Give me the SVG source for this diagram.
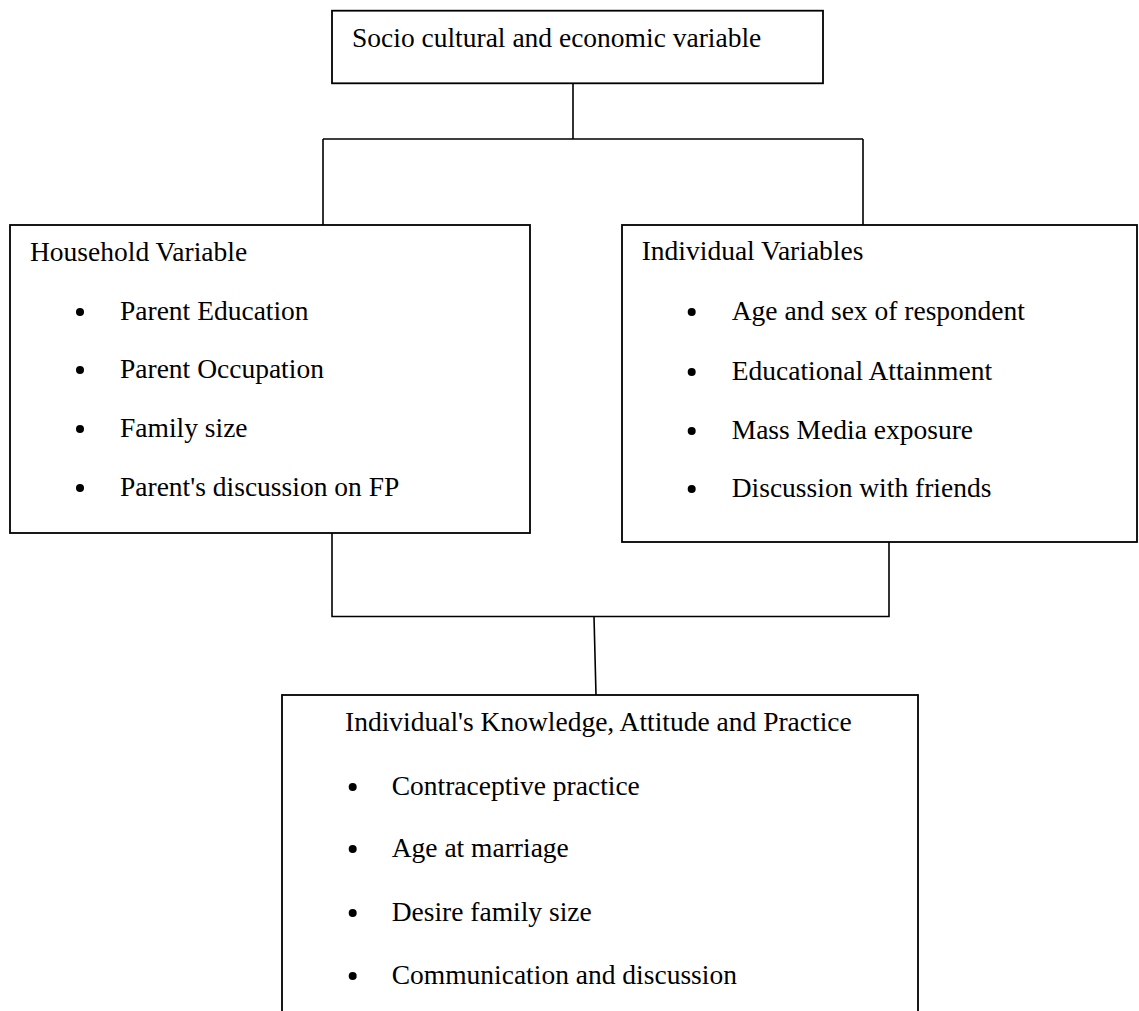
<svg xmlns="http://www.w3.org/2000/svg" width="1139" height="1011" viewBox="0 0 1139 1011">
<style>
.box{fill:#fff;stroke:#000;stroke-width:1.8}
.conn{fill:none;stroke:#000;stroke-width:1.6}
text{font-family:"Liberation Serif","Times New Roman",serif;font-size:27.5px;fill:#000}
.dot{fill:#000}
</style>
<rect width="1139" height="1011" fill="#fff"/>
<g id="connectors">
<path class="conn" d="M573,83 V139 M323,139 H863 M323,139 V225 M863,139 V225"/>
<path class="conn" d="M332,533 V616.5 H889 V542 M594,616.5 L596,695"/>
</g>
<g id="node-socio">
<rect class="box" x="332" y="10.7" width="491" height="72.6"/>
<text x="352" y="47">Socio cultural and economic variable</text>
</g>
<g id="node-household">
<rect class="box" x="10" y="225" width="520" height="308"/>
<text x="30" y="261">Household Variable</text>
<circle class="dot" cx="80" cy="312" r="4"/><text x="120" y="320">Parent Education</text>
<circle class="dot" cx="80" cy="370" r="4"/><text x="120" y="378">Parent Occupation</text>
<circle class="dot" cx="80" cy="429" r="4"/><text x="120" y="437">Family size</text>
<circle class="dot" cx="80" cy="488" r="4"/><text x="120" y="496">Parent's discussion on FP</text>
</g>
<g id="node-individual">
<rect class="box" x="622" y="225" width="515" height="317"/>
<text x="641.7" y="260">Individual Variables</text>
<circle class="dot" cx="691.7" cy="312" r="4"/><text x="731.7" y="320">Age and sex of respondent</text>
<circle class="dot" cx="691.7" cy="372" r="4"/><text x="731.7" y="380">Educational Attainment</text>
<circle class="dot" cx="691.7" cy="431" r="4"/><text x="731.7" y="439">Mass Media exposure</text>
<circle class="dot" cx="691.7" cy="489" r="4"/><text x="731.7" y="497">Discussion with friends</text>
</g>
<g id="node-kap">
<rect class="box" x="282" y="695" width="636" height="340"/>
<text x="345" y="731">Individual's Knowledge, Attitude and Practice</text>
<circle class="dot" cx="352.7" cy="787" r="4"/><text x="391.7" y="795">Contraceptive practice</text>
<circle class="dot" cx="352.7" cy="849" r="4"/><text x="391.7" y="857">Age at marriage</text>
<circle class="dot" cx="352.7" cy="913" r="4"/><text x="391.7" y="921">Desire family size</text>
<circle class="dot" cx="352.7" cy="976" r="4"/><text x="391.7" y="984">Communication and discussion</text>
</g>
</svg>
